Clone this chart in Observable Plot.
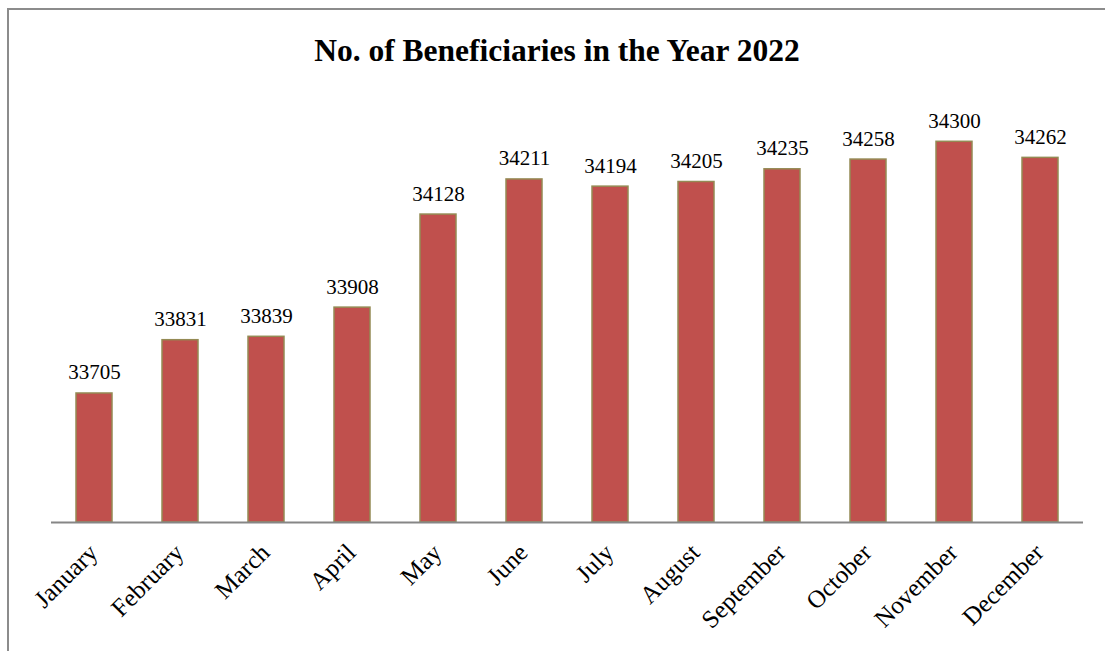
<!DOCTYPE html>
<html>
<head>
<meta charset="utf-8">
<script src="https://cdn.jsdelivr.net/npm/d3@7"></script>
<script src="https://cdn.jsdelivr.net/npm/@observablehq/plot@0.6"></script>
<style>
  html, body { margin: 0; padding: 0; background: #fff; }
  #wrap { position: relative; width: 1105px; height: 651px; overflow: hidden; }
  #frame { position: absolute; left: 7px; top: 8px; width: 1200px; height: 800px; border: 2px solid #8c8c8c; box-sizing: border-box; }
  #title { position: absolute; left: 0; width: 1114px; top: 35px; text-align: center; line-height: 32px;
    font-family: "Liberation Serif", "Times New Roman", serif; font-weight: bold; font-size: 31.5px; color: #000; }
  #chart { position: absolute; left: 0; top: 0; }
</style>
</head>
<body>
<div id="wrap">
  <div id="frame"></div>
  <div id="chart"></div>
  <div id="title">No. of Beneficiaries in the Year 2022</div>
</div>
<script>
const months = ["January","February","March","April","May","June","July","August","September","October","November","December"];
const beneficiaries = [33705, 33831, 33839, 33908, 34128, 34211, 34194, 34205, 34235, 34258, 34300, 34262];
const yMin = 33400;
const yMax = 34400;

const data = months.map((m, i) => ({month: m, value: beneficiaries[i]}));

const chart = Plot.plot({
  width: 1105,
  height: 651,
  marginLeft: 51,
  marginRight: 22,
  marginTop: 99,
  marginBottom: 129,
  style: {fontFamily: "'Liberation Serif', 'Times New Roman', serif", fontSize: "21px", color: "#000", background: "transparent"},
  x: {domain: months, paddingInner: 0.58, paddingOuter: 0.29, label: null},
  y: {domain: [yMin, yMax], axis: null},
  marks: [
    Plot.barY(data, {x: "month", y1: yMin, y2: "value", fill: "#C0504D", stroke: "#948A54", strokeWidth: 1.5}),
    Plot.ruleY([yMin], {stroke: "#868686", strokeWidth: 2}),
    Plot.axisX({tickSize: 0, tickRotate: -45, tickPadding: 26, dx: -1, fontSize: 25, label: null}),
    Plot.text(data, {x: "month", y: "value", text: d => String(d.value), lineAnchor: "bottom", dy: -14, fontSize: 21, fill: "#000"})
  ]
});
document.getElementById("chart").appendChild(chart);
</script>
</body>
</html>
